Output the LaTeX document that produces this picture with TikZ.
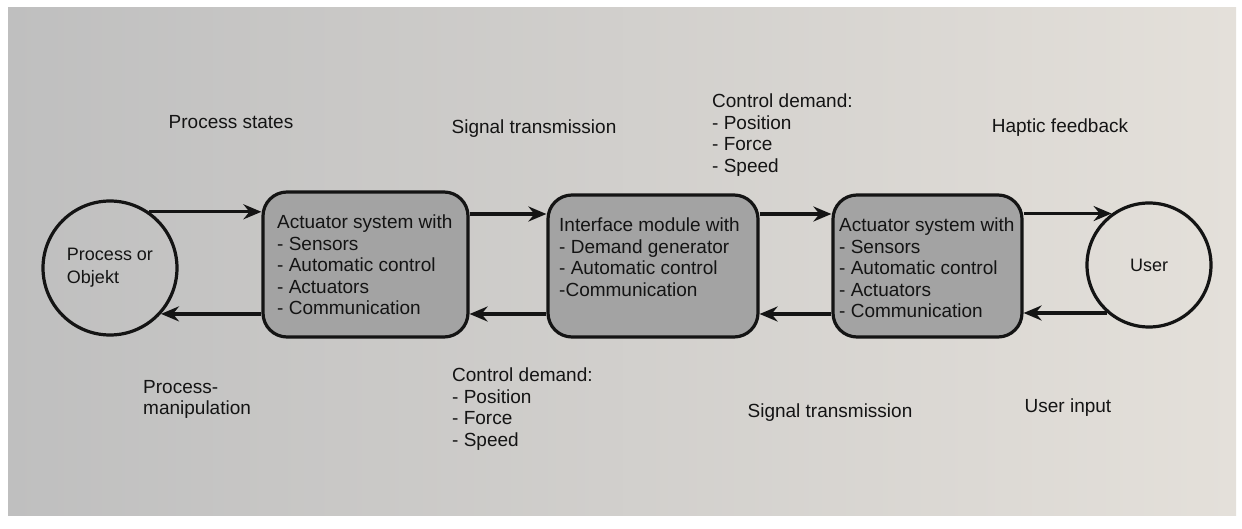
\documentclass[tikz,border=0pt]{standalone}
\usepackage{fontspec}
\setmainfont{Liberation Sans}
\usetikzlibrary{arrows.meta}
\definecolor{ink}{HTML}{141414}
\definecolor{boxgray}{HTML}{A3A3A3}
\definecolor{bgl}{HTML}{BFBFBF}
\definecolor{bgm}{HTML}{C3C3C3}
\definecolor{bgr}{HTML}{E4E0DA}
\begin{document}
\begin{tikzpicture}[x=1pt,y=-1pt,
  lbl/.style={font=\fontsize{19}{21.5}\selectfont, text=ink, inner sep=0pt, align=left},
  boxtext/.style={font=\fontsize{19}{21.5}\selectfont, text=ink, inner sep=0pt, align=left},
  module/.style={draw=ink, line width=3.2pt, rounded corners=24pt, fill=boxgray, inner sep=0pt},
  endpoint/.style={draw=ink, line width=3.2pt, circle, inner sep=0pt, align=left, text=ink},
  flow/.style={draw=ink, line width=3.2pt, -{Stealth[length=18pt,width=15pt,inset=6pt]}}
]
\useasboundingbox (0,0) rectangle (1242,529);
\fill[white] (0,0) rectangle (1242,529);
\shade[left color=bgl, middle color=bgm, right color=bgr] (8,8) rectangle (1236,515);

% main nodes
\node[endpoint, minimum size=134pt, font=\fontsize{18}{23}\selectfont] (proc) at (110,268) {Process or\\Objekt};
\node[module, minimum width=205pt, minimum height=145pt] (act1) at (365.5,264.5) {};
\node[module, minimum width=210pt, minimum height=142pt] (iface) at (653,266) {};
\node[module, minimum width=189pt, minimum height=142pt] (act2) at (927.5,266) {};
\node[endpoint, minimum size=124pt, font=\fontsize{18}{22}\selectfont] (user) at (1149,265) {User};

% box texts
\node[boxtext, anchor=north west] (act1t) at (277,215) {Actuator system with\\- Sensors\\- Automatic control\\- Actuators\\- Communication};
\node[boxtext, anchor=north west] (ifacet) at (559,218) {Interface module with\\- Demand generator\\- Automatic control\\-Communication};
\node[boxtext, anchor=north west] (act2t) at (839,218) {Actuator system with\\- Sensors\\- Automatic control\\- Actuators\\- Communication};

% connectors
\coordinate (upper) at (0,214);
\coordinate (lower) at (0,314);
\draw[flow] (proc.55) -- (act1.west |- proc.55);
\draw[flow] (act1.west |- proc.-42) -- (proc.-42);
\draw[flow] (act1.east |- upper) -- (iface.west |- upper);
\draw[flow] (iface.west |- lower) -- (act1.east |- lower);
\draw[flow] (iface.east |- upper) -- (act2.west |- upper);
\draw[flow] (act2.west |- lower) -- (iface.east |- lower);
\draw[flow] (act2.east |- user.126) -- (user.126);
\draw[flow] (user.-131) -- (act2.east |- user.-131);

% labels
\node[lbl] (ps) at (231,122) {Process states};
\node[lbl] (st1) at (534,129) {Signal transmission};
\node[lbl, anchor=north west] (cd1) at (712,94) {Control demand:\\- Position\\- Force\\- Speed};
\node[lbl] (hf) at (1060,128) {Haptic feedback};
\node[lbl, anchor=north west] (pm) at (143,380) {Process-\\manipulation};
\node[lbl, anchor=north west] (cd2) at (452,368) {Control demand:\\- Position\\- Force\\- Speed};
\node[lbl] (st2) at (830,413) {Signal transmission};
\node[lbl] (ui) at (1068,408) {User input};
\end{tikzpicture}
\end{document}
